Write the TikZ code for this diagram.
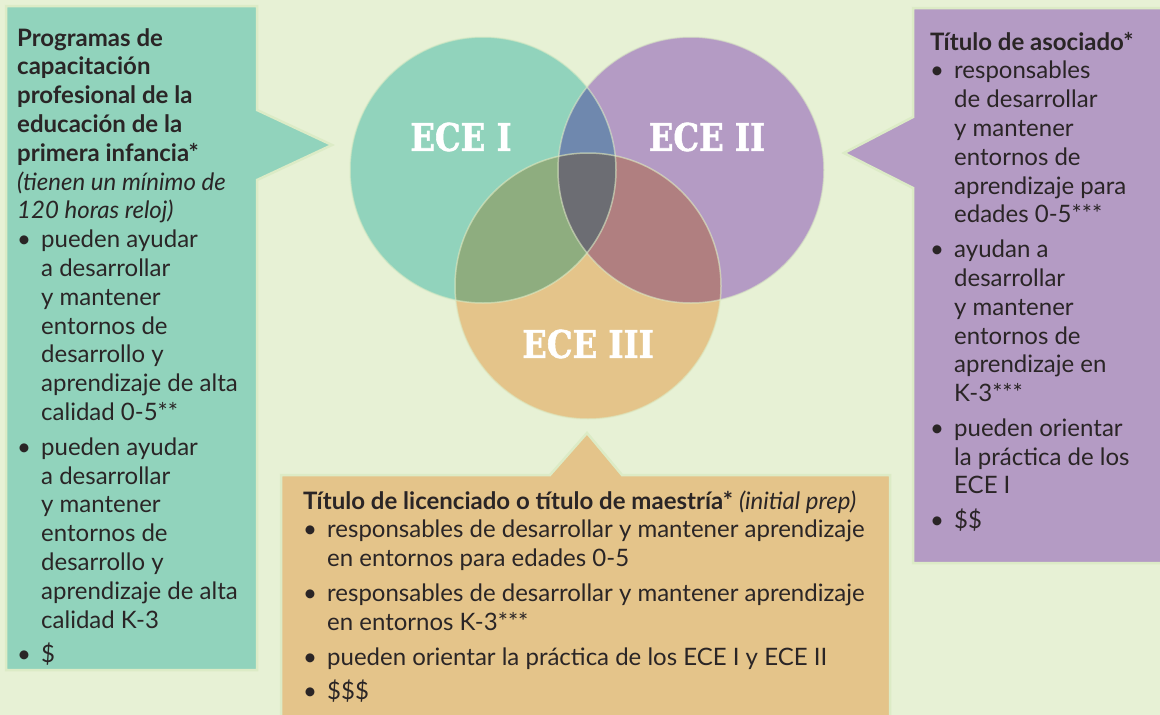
\documentclass[tikz,border=0pt]{standalone}
\usepackage{fontspec}
\setmainfont{Lato}
\newfontfamily\slabfont[BoldFeatures={FakeBold=1.6}]{DejaVu Serif}
\usepackage{graphicx}
\definecolor{bg}{HTML}{E7F1D5}
\definecolor{edge}{HTML}{DCEBC6}
\definecolor{teal}{HTML}{91D3BC}
\definecolor{purp}{HTML}{B49BC4}
\definecolor{ora}{HTML}{E4C48A}
\definecolor{tp}{HTML}{6F88AE}
\definecolor{to}{HTML}{8EAD7F}
\definecolor{po}{HTML}{B07F80}
\definecolor{tpo}{HTML}{6C6D73}
\definecolor{ink}{HTML}{2A2526}
\newcommand\boxtext[2]{\vtop{\hsize=#1\relax\parindent=0pt\parskip=0pt\fontsize{24pt}{28.8pt}\selectfont\noindent #2}}
\newcommand\bul{\par\hangindent=24pt\relax\hangafter=1\noindent\makebox[24pt][l]{\hspace{0pt}\textbullet}}
\newcommand\gbul{\par\vspace{6pt}\bul}
\tikzset{
  boxfill/.style={draw=edge, line width=2.5pt, line join=miter},
  circlab/.style={inner sep=0pt, text=white, font=\slabfont\bfseries\fontsize{38pt}{38pt}\selectfont},
  bodytext/.style={inner sep=0pt, anchor=base west, text=ink},
  ring/.style={draw=edge, line width=1.5pt, draw opacity=0.6}
}
\begin{document}
\begin{tikzpicture}[x=1pt, y=-1pt]
\useasboundingbox (0,0) rectangle (1160,715);
\fill[bg] (0,0) rectangle (1160,715);
% boxes
\path[boxfill, fill=teal] (6,6) -- (257,6) -- (257,110) -- (332,145) -- (257,180) -- (257,670) -- (6,670) -- cycle;
\path[boxfill, fill=purp] (1163,8) -- (913,8) -- (913,117) -- (844,153) -- (913,188) -- (913,563) -- (1163,563);
\path[boxfill, fill=ora] (281,718) -- (281,475) -- (550,475) -- (587,433) -- (622,475) -- (890,475) -- (890,718);
% circles
\coordinate (c1) at (483,170);
\coordinate (c2) at (691,170);
\coordinate (c3) at (588,286);
\def\R{133}
\fill[teal] (c1) circle (\R);
\fill[purp] (c2) circle (\R);
\fill[ora] (c3) circle (\R);
\begin{scope}\clip (c1) circle (\R); \fill[tp] (c2) circle (\R); \end{scope}
\begin{scope}\clip (c1) circle (\R); \fill[to] (c3) circle (\R); \end{scope}
\begin{scope}\clip (c2) circle (\R); \fill[po] (c3) circle (\R); \end{scope}
\begin{scope}\clip (c1) circle (\R); \clip (c2) circle (\R); \fill[tpo] (c3) circle (\R); \end{scope}
\draw[ring] (c1) circle (\R);
\draw[ring] (c2) circle (\R);
\draw[ring] (c3) circle (\R);
\node[circlab] (lab1) at (461,137) {\scalebox{0.85}[1]{ECE I}};
\node[circlab] (lab2) at (707,137) {\scalebox{0.85}[1]{ECE II}};
\node[circlab] (lab3) at (588,344) {\scalebox{0.85}[1]{ECE III}};
% texts
\node[bodytext] (lefttext) at (17,46) {\boxtext{240pt}{%
\textbf{Programas de\\capacitación\\profesional de la\\educación de la\\primera infancia*}\\
\textit{(tienen un mínimo de\\120 horas reloj)}
\bul pueden ayudar\\a desarrollar\\y mantener\\entornos de\\desarrollo y\\aprendizaje de alta\\calidad 0-5**
\gbul pueden ayudar\\a desarrollar\\y mantener\\entornos de\\desarrollo y\\aprendizaje de alta\\calidad K-3
\gbul \$}};
\node[bodytext] (righttext) at (930,50) {\boxtext{228pt}{%
\textbf{Título de asociado*}
\bul responsables\\de desarrollar\\y mantener\\entornos de\\aprendizaje para\\edades 0-5***
\gbul ayudan a\\desarrollar\\y mantener\\entornos de\\aprendizaje en\\K-3***
\gbul pueden orientar\\la práctica de los\\ECE I
\gbul \$\$}};
\node[bodytext] (bottomtext) at (303,509) {\boxtext{585pt}{%
\textbf{Título de licenciado o título de maestría*} \textit{(initial prep)}
\bul responsables de desarrollar y mantener aprendizaje\\en entornos para edades 0-5
\gbul responsables de desarrollar y mantener aprendizaje\\en entornos K-3***
\gbul pueden orientar la práctica de los ECE I y ECE II
\gbul \$\$\$}};
\end{tikzpicture}
\end{document}
